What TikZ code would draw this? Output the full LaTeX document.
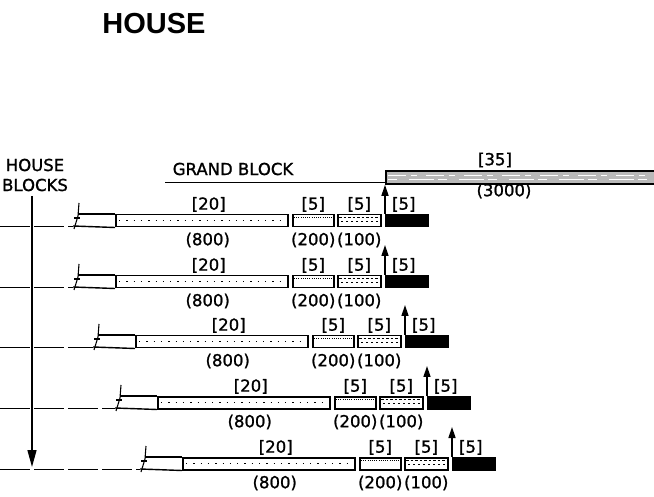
\documentclass[tikz,border=0pt]{standalone}
\usepackage{fontspec}
\setmainfont{DejaVu Sans}[FakeBold=1.2]
\newfontfamily\titlefont{Liberation Sans}
\usetikzlibrary{positioning,arrows.meta}

\begin{document}
\begin{tikzpicture}[x=1pt,y=-1pt,font=\fontsize{16.5}{20}\selectfont,
  blockbar/.style={draw,line width=1.5pt,inner sep=0pt,minimum height=12pt,anchor=north west},
  lbl/.style={inner sep=1pt},
  rowline/.style={line width=0.8pt,dash pattern=on 30pt off 4pt},
  uparrow/.style={line width=1.6pt,-{Triangle[length=11pt,width=7pt]}}]
  \useasboundingbox (0,0) rectangle (654,497);

  \node[font=\titlefont\bfseries\fontsize{29}{29}\selectfont] (title) at (154,24) {HOUSE};
  \node[align=center,inner sep=0pt] (hb) at (35,175) {HOUSE\\BLOCKS};

  % grand block
  \node[blockbar,line width=1.8pt,fill=gray!55,minimum width=275pt,minimum height=13pt] (gb) at (385,170) {};
  \draw[white,line width=1pt,dash pattern=on 18pt off 5pt on 6pt off 9pt]
    ([xshift=3pt,yshift=2pt]gb.west) -- ([yshift=2pt]gb.east);
  \draw[white,line width=0.7pt,dash pattern=on 9pt off 12pt on 25pt off 4pt]
    ([xshift=3pt,yshift=-2pt]gb.west) -- ([yshift=-2pt]gb.east);
  \node[lbl] (t35) at (495,160) {[35]};
  \node[lbl] (t3000) at (504,191) {(3000)};
  \node[lbl] (gbl) at (233,169) {GRAND BLOCK};
  \coordinate (gu) at (165,182);
  \draw[line width=0.8pt] (gu) -- (gu -| gb.west);

  % one row per house block
  \foreach \r/\bx/\by in {1/385/214, 2/385/275, 3/405/335, 4/427/396, 5/452/457} {
    \node[blockbar,fill=black,minimum width=42pt] (k\r) at (\bx,\by) {};
    \node[blockbar,minimum width=43pt] (p\r) at (\bx-48,\by) {};
    \node[blockbar,minimum width=41pt] (q\r) at (\bx-93,\by) {};
    \node[blockbar,minimum width=172pt] (s\r) at (\bx-270,\by) {};
    % fills
    \draw[line width=1.3pt,dash pattern=on 1.3pt off 6pt]
      ([xshift=4pt]s\r.west) -- ([xshift=-3pt]s\r.east);
    \draw[line width=1pt,dash pattern=on 1pt off 1.2pt]
      ([xshift=2pt,yshift=-3.5pt]q\r.north west) -- ([xshift=-2pt,yshift=-3.5pt]q\r.north east);
    \draw[line width=0.9pt,dash pattern=on 2.5pt off 2pt]
      ([xshift=2pt,yshift=-3.5pt]p\r.north west) -- ([xshift=-2pt,yshift=-3.5pt]p\r.north east);
    \draw[line width=0.9pt,dash pattern=on 2pt off 3pt]
      ([xshift=4pt,yshift=-7pt]p\r.north west) -- ([xshift=-2pt,yshift=-7pt]p\r.north east);
    % broken end
    \coordinate (w\r) at (\bx-312,\by+12);
    \coordinate (e\r) at (0,\by+12);
    \draw[line width=1.4pt] (s\r.north west) -- (\bx-307,\by);
    \draw[line width=1.4pt] (s\r.south west) -- (w\r);
    \draw[line width=1.1pt] (\bx-306,\by-11) -- (\bx-307,\by+2) -- (\bx-311,\by+15);
    \draw[line width=1.1pt] (\bx-311,\by+4) -- (\bx-305,\by+4);
    \draw[rowline] (e\r) -- (w\r);
    % labels
    \node[lbl,above=1pt of s\r,xshift=7pt] (a20\r) {[20]};
    \node[lbl,below=4pt of s\r,xshift=6pt] (b800\r) {(800)};
    \node[lbl,above=1pt of q\r] (a5q\r) {[5]};
    \node[lbl,below=4pt of q\r] (b200\r) {(200)};
    \node[lbl,above=1pt of p\r] (a5p\r) {[5]};
    \node[lbl,below=4pt of p\r] (b100\r) {(100)};
    \node[lbl,above=1pt of k\r,xshift=-3pt] (a5k\r) {[5]};
  }

  % arrows
  \draw[uparrow] (k1.north west) -- (gb.south west);
  \foreach \r in {2,...,5} {
    \coordinate (u\r) at ([yshift=30pt]k\r.north west);
    \draw[uparrow] (k\r.north west) -- (u\r);
  }
  \coordinate (ax) at (32,196);
  \coordinate (az) at (32,467);
  \draw[line width=1.4pt,-{Triangle[length=17pt,width=9pt]}] (ax) -- (az);
\end{tikzpicture}
\end{document}
